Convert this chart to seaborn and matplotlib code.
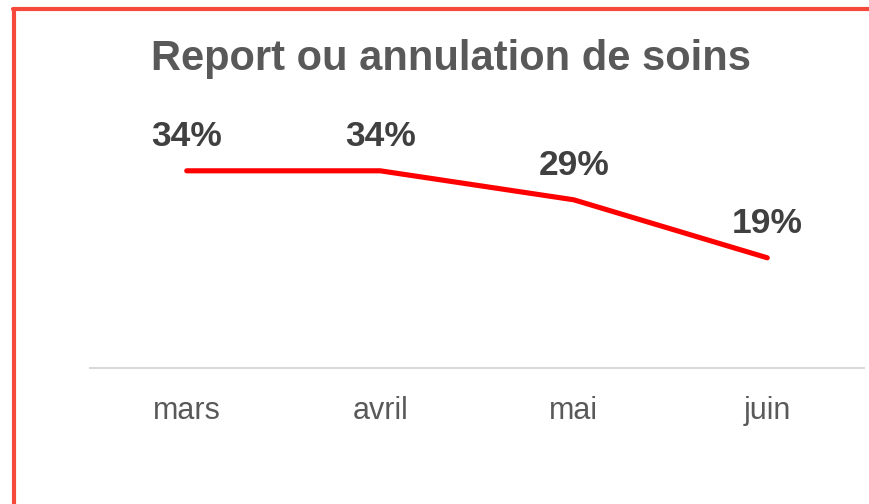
import matplotlib
matplotlib.use("Agg")
import matplotlib.pyplot as plt
import seaborn as sns
import pandas as pd
from matplotlib.lines import Line2D

months = ["mars", "avril", "mai", "juin"]
values = [34, 34, 29, 19]
title = "Report ou annulation de soins"

sns.set_style("white")
plt.rcParams['font.family'] = ['Liberation Sans', 'DejaVu Sans']

df = pd.DataFrame({"mois": months, "pct": values})

fig = plt.figure(figsize=(8.69, 5.04), dpi=100)
ax = fig.add_axes([90 / 869, 1 - 368 / 504, 774 / 869, 232 / 504])

sns.lineplot(data=df, x="mois", y="pct", ax=ax, color="#FF0000",
             linewidth=3.7, solid_capstyle="round", solid_joinstyle="round")

for i, v in enumerate(values):
    ax.annotate("{}%".format(v), (i, v), xytext=(0, 25), textcoords="offset points",
                ha="center", va="center", fontsize=25.5, fontweight="bold",
                color="#404040")

ax.set_xlim(-0.5, 3.5)
ax.set_ylim(0, 40)
ax.set_xlabel("")
ax.set_ylabel("")
ax.set_yticks([])
ax.tick_params(axis="x", length=0, pad=20, labelsize=22, labelcolor="#595959")
for s in ["top", "right", "left"]:
    ax.spines[s].set_visible(False)
ax.spines["bottom"].set_color("#D9D9D9")
ax.spines["bottom"].set_linewidth(1.5)

fig.text(451 / 869, 1 - 70 / 504, title, ha="center", va="baseline",
         fontsize=30, fontweight="bold", color="#595959")

# red frame (left and top edges visible in the crop)
border = "#F4493B"
fig.add_artist(Line2D([14 / 869, 14 / 869], [0, 1 - 8.5 / 504],
                      transform=fig.transFigure, color=border, linewidth=3))
fig.add_artist(Line2D([12.5 / 869, 1], [1 - 8.5 / 504, 1 - 8.5 / 504],
                      transform=fig.transFigure, color=border, linewidth=3))

fig.savefig("out.png", dpi=100)
